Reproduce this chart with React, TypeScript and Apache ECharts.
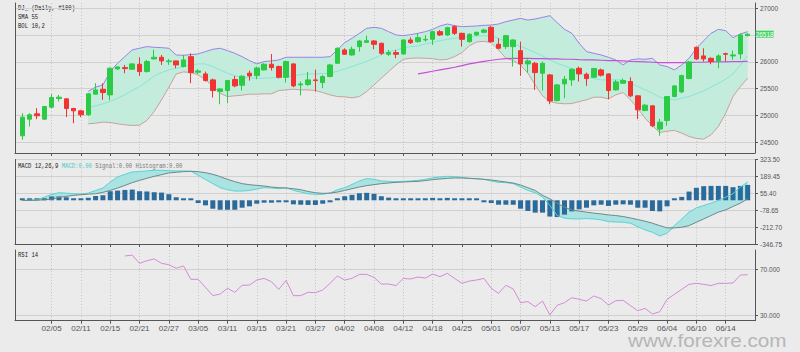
import React, { useEffect, useRef } from "react";
import * as echarts from "echarts";

const dates = [
  "01/30", "01/31", "02/01", "02/04", "02/05", "02/06", "02/07", "02/08", "02/11", "02/12",
  "02/13", "02/14", "02/15", "02/18", "02/19", "02/20", "02/21", "02/22", "02/25", "02/26",
  "02/27", "02/28", "03/01", "03/04", "03/05", "03/06", "03/07", "03/08", "03/11", "03/12",
  "03/13", "03/14", "03/15", "03/18", "03/19", "03/20", "03/21", "03/22", "03/25", "03/26",
  "03/27", "03/28", "03/29", "04/01", "04/02", "04/03", "04/04", "04/05", "04/08", "04/09",
  "04/10", "04/11", "04/12", "04/15", "04/16", "04/17", "04/18", "04/22", "04/23", "04/24",
  "04/25", "04/26", "04/29", "04/30", "05/01", "05/02", "05/03", "05/06", "05/07", "05/08",
  "05/09", "05/10", "05/13", "05/14", "05/15", "05/16", "05/17", "05/20", "05/21", "05/22",
  "05/23", "05/24", "05/27", "05/28", "05/29", "05/30", "05/31", "06/03", "06/04", "06/05",
  "06/06", "06/07", "06/10", "06/11", "06/12", "06/13", "06/14", "06/17", "06/18", "06/19",
];

const opens = [
  24621, 24932, 25031, 24932, 25155, 25317, 25311, 25131, 25087, 25013,
  25398, 25491, 25385, 25870, 25894, 25863, 25957, 25820, 26056, 26087,
  26006, 26019, 25913, 26099, 25807, 25776, 25665, 25447, 25466, 25671,
  25565, 25789, 25745, 25851, 25957, 25913, 25714, 25963, 25571, 25578,
  25665, 25615, 25727, 25975, 26224, 26130, 26286, 26366, 26391, 26348,
  26143, 26174, 26149, 26410, 26379, 26410, 26422, 26565, 26503, 26658,
  26534, 26379, 26503, 26553, 26646, 26329, 26286, 26286, 26211, 25963,
  25975, 25789, 25758, 25280, 25590, 25665, 25882, 25770, 25714, 25851,
  25776, 25478, 25603, 25634, 25367, 25093, 25180, 24746, 24907, 25354,
  25441, 25690, 26273, 26112, 26068, 26019, 26155, 26112, 26149, 26491,
];
const closes = [
  24969, 25013, 24994, 25168, 25336, 25342, 25131, 25087, 25013, 25404,
  25478, 25429, 25882, 25907, 25876, 25963, 25820, 26006, 26087, 26019,
  26019, 25944, 26037, 25801, 25832, 25652, 25466, 25497, 25652, 25553,
  25733, 25739, 25888, 25957, 25894, 25714, 26006, 25553, 25590, 25665,
  25652, 25727, 25944, 26255, 26143, 26236, 26391, 26397, 26329, 26161,
  26174, 26143, 26410, 26360, 26453, 26422, 26565, 26503, 26640, 26534,
  26422, 26516, 26553, 26596, 26379, 26255, 26491, 26410, 25963, 26019,
  25801, 25975, 25273, 25571, 25677, 25863, 25776, 25689, 25876, 25752,
  25466, 25627, 25652, 25367, 25106, 25193, 24808, 24876, 25354, 25553,
  25745, 26000, 26056, 26056, 26006, 26112, 26143, 26130, 26503, 26518,
];
const lows = [
  24547, 24795, 24932, 24919, 25137, 25261, 24969, 24857, 24969, 24994,
  25385, 25292, 25280, 25851, 25789, 25851, 25739, 25801, 26050, 25944,
  25944, 25882, 25900, 25603, 25776, 25634, 25336, 25211, 25230, 25528,
  25466, 25652, 25677, 25839, 25839, 25690, 25615, 25528, 25373, 25553,
  25447, 25509, 25714, 25963, 26130, 26118, 26193, 26360, 26236, 26130,
  26112, 26068, 26130, 26335, 26360, 26379, 26317, 26484, 26484, 26503,
  26286, 26360, 26484, 26534, 26360, 26236, 26242, 25913, 25739, 25801,
  25478, 25466, 25211, 25261, 25323, 25553, 25634, 25553, 25702, 25727,
  25305, 25466, 25590, 25342, 24932, 25081, 24783, 24621, 24808, 25342,
  25416, 25677, 26037, 26006, 25957, 25882, 26006, 26037, 26050, 26478,
];
const highs = [
  25044, 25044, 25137, 25180, 25398, 25385, 25323, 25143, 25106, 25416,
  25603, 25603, 25900, 25913, 25944, 25975, 26087, 26037, 26224, 26130,
  26056, 26019, 26130, 26161, 25863, 25820, 25690, 25509, 25665, 25739,
  25752, 25839, 25913, 25975, 26149, 25932, 26025, 25975, 25634, 25814,
  25857, 25758, 25963, 26273, 26255, 26286, 26410, 26491, 26410, 26360,
  26224, 26224, 26422, 26460, 26534, 26503, 26584, 26596, 26658, 26689,
  26546, 26534, 26565, 26621, 26671, 26441, 26503, 26422, 26379, 26050,
  26000, 26006, 25776, 25590, 25739, 25882, 25913, 25801, 25888, 25876,
  25789, 25665, 25690, 25714, 25379, 25218, 25193, 24938, 25367, 25565,
  25764, 26019, 26286, 26255, 26087, 26143, 26174, 26211, 26534, 26534,
];

// Bollinger 10,2 (values from bar 9 on)
const BOL_START = 9;
const bolUpper = [
  25450, 25530, 25570, 25820, 25975, 26100, 26225, 26255, 26286, 26273,
  26267, 26255, 26130, 26124, 26137, 26149, 26193, 26236, 26255, 26211,
  26161, 26099, 26025, 25963, 26006, 26019, 26037, 26087, 26087, 26087,
  26087, 26087, 26087, 26099, 26224, 26360, 26441, 26534, 26627, 26646,
  26627, 26565, 26503, 26491, 26509, 26534, 26565, 26608, 26671, 26708,
  26677, 26658, 26664, 26671, 26683, 26689, 26708, 26751, 26782, 26813,
  26782, 26801, 26832, 26863, 26733, 26608, 26534, 26348, 26193, 26161,
  26130, 26087, 26037, 25944, 26037, 26056, 26050, 26068, 25944, 25913,
  25851, 25944, 26068, 26255, 26397, 26534, 26608, 26584, 26453, 26522,
  26565,
];
const bolMid = [
  25155, 25180, 25218, 25261, 25323, 25385, 25466, 25541, 25634, 25739,
  25801, 25851, 25882, 25913, 25944, 25963, 25963, 25913, 25851, 25789,
  25745, 25714, 25702, 25696, 25696, 25702, 25708, 25714, 25739, 25764,
  25776, 25776, 25783, 25789, 25826, 25870, 25913, 25963, 26006, 26068,
  26130, 26193, 26224, 26267, 26286, 26298, 26335, 26366, 26397, 26422,
  26441, 26460, 26472, 26484, 26491, 26484, 26441, 26379, 26335, 26286,
  26236, 26174, 26112, 26037, 25975, 25925, 25882, 25801, 25727, 25689,
  25665, 25665, 25665, 25665, 25603, 25541, 25478, 25416, 25342, 25304,
  25292, 25323, 25354, 25404, 25460, 25528, 25603, 25677, 25776, 25944,
  26112,
];
const bolLower = [
  24845, 24857, 24876, 24870, 24845, 24826, 24814, 24820, 24907, 25075,
  25292, 25528, 25776, 25814, 25801, 25758, 25665, 25553, 25416, 25354,
  25367, 25379, 25398, 25398, 25404, 25404, 25466, 25478, 25491, 25478,
  25478, 25466, 25429, 25385, 25354, 25348, 25329, 25354, 25447, 25571,
  25696, 25820, 25944, 26050, 26068, 26074, 26068, 26062, 26037, 26050,
  26099, 26174, 26298, 26373, 26385, 26360, 26224, 26068, 26025, 25944,
  25789, 25571, 25367, 25261, 25230, 25218, 25224, 25261, 25292, 25342,
  25342, 25311, 25385, 25429, 25292, 25137, 24950, 24808, 24683, 24708,
  24721, 24671, 24609, 24572, 24559, 24640, 24795, 25043, 25354, 25541,
  25696,
];

// SMA 55 (values from bar 54 on)
const SMA_START = 54;
const sma55 = [
  25776, 25801, 25826, 25851, 25876, 25901, 25932, 25963, 25988, 26012,
  26031, 26050, 26062, 26068, 26068, 26068, 26062, 26062, 26056, 26056,
  26050, 26050, 26043, 26037, 26037, 26031, 26025, 26025, 26019, 26012,
  26006, 26000, 25994, 25988, 25988, 25988, 25988, 25988, 25994, 25994,
  26000, 26000, 26000, 26006, 26006, 26012,
];

const macdLine = [
  -1, 1, 4, 25, 47, 60, 57, 52, 49, 57,
  78, 97, 145, 185, 206, 225, 228, 233, 238, 238,
  235, 233, 233, 230, 198, 164, 132, 100, 84, 73,
  73, 78, 89, 100, 97, 92, 100, 78, 65, 52,
  47, 47, 57, 84, 100, 126, 153, 172, 166, 153,
  150, 148, 150, 153, 158, 166, 177, 185, 190, 188,
  182, 174, 169, 166, 153, 142, 140, 132, 105, 78,
  60, 25, -41, -121, -142, -148, -148, -145, -148, -156,
  -169, -172, -174, -182, -209, -235, -254, -283, -262, -201,
  -148, -94, -60, -41, -23, -1, 25, 52, 105, 145,
];
const signalLine = [
  -1, -1, 1, 4, 9, 23, 31, 39, 44, 49,
  52, 63, 78, 97, 118, 140, 158, 174, 190, 203,
  217, 222, 227, 230, 227, 219, 206, 188, 166, 148,
  132, 124, 118, 113, 105, 100, 97, 92, 84, 70,
  60, 55, 57, 65, 78, 92, 105, 116, 124, 132,
  137, 142, 145, 148, 150, 156, 164, 169, 174, 177,
  177, 174, 172, 166, 161, 153, 145, 137, 121, 100,
  78, 39, 12, -23, -55, -76, -86, -94, -102, -108,
  -116, -121, -129, -140, -153, -166, -182, -201, -219, -219,
  -214, -201, -174, -148, -121, -94, -76, -49, -23, 12,
];
const histogram = [
  0, 5, 8, 15, 30, 30, 24, 16, 10, 20,
  34, 40, 72, 77, 82, 85, 72, 70, 64, 61,
  48, 24, 16, 2, -22, -40, -67, -75, -75, -75,
  -59, -48, -27, -19, -19, -16, -5, -32, -35, -37,
  -37, -27, -11, 16, 32, 43, 56, 59, 51, 32,
  21, 16, 10, 10, 13, 13, 19, 13, 19, 5,
  2, 1, 0, -1, -22, -35, -35, -35, -67, -85,
  -98, -98, -129, -133, -114, -88, -72, -59, -40, -35,
  -45, -35, -32, -35, -59, -59, -85, -88, -48, 2,
  27, 69, 99, 112, 114, 114, 114, 104, 114, 122,
];

// RSI 14 (values from bar 14 on)
const RSI_START = 14;
const rsi14 = [
  81.6, 82.4, 75.2, 77.5, 79.0, 75.2, 74.0, 70.9, 72.9, 61.3,
  61.3, 54.3, 47.1, 48.5, 53.5, 50.0, 56.1, 56.3, 60.7, 62.1,
  59.2, 52.6, 60.4, 47.1, 47.1, 50.0, 49.7, 52.0, 57.8, 64.2,
  60.7, 62.1, 65.6, 65.6, 63.0, 57.2, 57.2, 55.8, 62.1, 61.6,
  63.3, 62.4, 65.9, 63.6, 66.5, 62.1, 57.8, 59.8, 60.7, 62.1,
  53.5, 49.1, 56.1, 52.9, 41.0, 41.9, 37.5, 42.4, 30.3, 38.7,
  41.0, 45.3, 43.9, 42.4, 46.8, 44.5, 38.9, 42.7, 43.0, 38.4,
  34.0, 36.0, 31.1, 33.1, 43.9, 48.2, 52.6, 56.9, 57.8, 56.9,
  55.8, 57.8, 57.8, 58.1, 65.0, 65.3,
];

const priceTicks = [24500, 25000, 25500, 26000, 26500, 27000];
const priceLabels = [24500, 25000, 25500, 26000, 27000]; // 26500 sits under the last-price tag
const macdTicks = [-346.75, -212.7, -78.65, 55.4, 189.45, 323.5];
const rsiTicks = [30, 70];
const LAST_PRICE = 26518;

const N = dates.length;
const cats = [" ", ...dates, "  "];

function place(values: number[], start: number): (number | string)[] {
  const out: (number | string)[] = ["-"];
  for (let i = 0; i < N; i++) {
    const j = i - start;
    out.push(j >= 0 && j < values.length ? values[j] : "-");
  }
  out.push("-");
  return out;
}

const tickOn = (idx: number) => {
  const r = idx - 1;
  return r >= 4 && r < N && r % 4 === 0;
};

const AX = "#555555";
const MONO = "Liberation Mono";
const SANS = "Liberation Sans";

export default function App() {
  const ref = useRef<HTMLDivElement>(null);

  useEffect(() => {
    if (!ref.current) return;
    const chart = echarts.init(ref.current, undefined, { renderer: "svg" });

    const candleData: any[] = ["-"];
    for (let i = 0; i < N; i++) candleData.push([opens[i], closes[i], lows[i], highs[i]]);
    candleData.push("-");

    const bolDiff = bolUpper.map((u, k) => u - bolLower[k]);
    const macdBase = macdLine.map((m, i) => Math.min(m, signalLine[i]));
    const macdDiff = macdLine.map((m, i) => Math.abs(m - signalLine[i]));

    const grids = [
      { left: 15, right: 45, top: 3, height: 150 },
      { left: 15, right: 45, top: 159.5, height: 84.5 },
      { left: 15, right: 45, top: 250, height: 70.7 },
    ];

    const xAxes = [0, 1, 2].map((k) => ({
      type: "category",
      gridIndex: k,
      data: cats,
      boundaryGap: false,
      axisLine: { show: true, onZero: false, lineStyle: { color: AX, width: 1 } },
      axisTick: { show: true, interval: tickOn, length: 3, lineStyle: { color: AX } },
      axisLabel: {
        show: k === 2,
        interval: tickOn,
        fontSize: 8,
        color: "#555",
        margin: 4,
        fontFamily: SANS,
      },
      splitLine: { show: true, interval: tickOn, lineStyle: { color: "#c6c6c6", type: [1, 2] } },
    }));

    const rightAxis = (
      g: number,
      min: number,
      max: number,
      ticks: number[],
      labels: number[],
      fmt: (v: number) => string
    ) => ({
      type: "value",
      gridIndex: g,
      position: "right",
      min,
      max,
      axisLine: { show: true, onZero: false, lineStyle: { color: AX } },
      axisTick: { show: true, customValues: ticks, length: 3, lineStyle: { color: AX } },
      axisLabel: {
        show: true,
        customValues: labels,
        formatter: fmt,
        fontSize: 6.5,
        color: "#555",
        margin: 5,
        fontFamily: SANS,
      },
      splitLine: { show: true, lineStyle: { color: "#d0d0d0", width: 1 } },
    });
    const leftAxis = (g: number, min: number, max: number) => ({
      type: "value",
      gridIndex: g,
      position: "left",
      min,
      max,
      axisLine: { show: true, onZero: false, lineStyle: { color: AX } },
      axisTick: { show: false },
      axisLabel: { show: false },
      splitLine: { show: false },
    });

    const noSym = { showSymbol: false, symbol: "none" };

    const option: any = {
      animation: false,
      backgroundColor: "#ebebeb",
      grid: grids.map((g) => ({ ...g, outerBoundsMode: "none", containLabel: false })),
      xAxis: xAxes,
      yAxis: [
        rightAxis(0, 24300, 27100, priceTicks, priceLabels, (v) => String(Math.round(v))),
        leftAxis(0, 24300, 27100),
        rightAxis(1, -346.75, 323.5, macdTicks, macdTicks, (v) => v.toFixed(2)),
        leftAxis(1, -346.75, 323.5),
        rightAxis(2, 25.3, 86.8, rsiTicks, rsiTicks, (v) => v.toFixed(3)),
        leftAxis(2, 25.3, 86.8),
      ],
      series: [
        {
          name: "BOL base",
          type: "line",
          xAxisIndex: 0,
          yAxisIndex: 0,
          data: place(bolLower, BOL_START),
          stack: "bol",
          ...noSym,
          lineStyle: { color: "#c6a29c", width: 1 },
          z: 2,
        },
        {
          name: "BOL fill",
          type: "line",
          xAxisIndex: 0,
          yAxisIndex: 0,
          data: place(bolDiff, BOL_START),
          stack: "bol",
          ...noSym,
          lineStyle: { width: 0, opacity: 0 },
          areaStyle: { color: "#c3ecdd", opacity: 1 },
          z: 1,
        },
        {
          name: "BOL upper",
          type: "line",
          xAxisIndex: 0,
          yAxisIndex: 0,
          data: place(bolUpper, BOL_START),
          ...noSym,
          lineStyle: { color: "#9a82e6", width: 1 },
          z: 3,
        },
        {
          name: "BOL mid",
          type: "line",
          xAxisIndex: 0,
          yAxisIndex: 0,
          data: place(bolMid, BOL_START),
          ...noSym,
          lineStyle: { color: "#86e6d6", width: 1 },
          z: 3,
        },
        {
          name: "SMA 55",
          type: "line",
          xAxisIndex: 0,
          yAxisIndex: 0,
          data: place(sma55, SMA_START),
          ...noSym,
          lineStyle: { color: "#c650d6", width: 1.2 },
          z: 3,
        },
        {
          name: "DJ_",
          type: "candlestick",
          xAxisIndex: 0,
          yAxisIndex: 0,
          data: candleData,
          barWidth: 5,
          itemStyle: {
            color: "#2ccb45",
            color0: "#f03434",
            borderColor: "#2ccb45",
            borderColor0: "#f03434",
            borderWidth: 1,
          },
          z: 5,
          markPoint: {
            silent: true,
            symbol: "rect",
            symbolSize: [18, 7],
            symbolOffset: [17, 0],
            itemStyle: { color: "#3fd35f" },
            label: {
              show: true,
              position: "inside",
              formatter: String(LAST_PRICE),
              color: "#ffffff",
              fontSize: 6.5,
              fontFamily: SANS,
            },
            data: [{ coord: [dates[N - 1], LAST_PRICE], value: LAST_PRICE }],
          },
        },
        {
          name: "MACD base",
          type: "line",
          xAxisIndex: 1,
          yAxisIndex: 2,
          data: place(macdBase, 0),
          stack: "macd",
          stackStrategy: "all",
          ...noSym,
          lineStyle: { width: 0, opacity: 0 },
          z: 1,
        },
        {
          name: "MACD fill",
          type: "line",
          xAxisIndex: 1,
          yAxisIndex: 2,
          data: place(macdDiff, 0),
          stack: "macd",
          stackStrategy: "all",
          ...noSym,
          lineStyle: { width: 0, opacity: 0 },
          areaStyle: { color: "#abe2e2", opacity: 1 },
          z: 1,
        },
        {
          name: "Histogram",
          type: "bar",
          xAxisIndex: 1,
          yAxisIndex: 2,
          data: place(histogram, 0),
          barWidth: 5,
          barMinHeight: 2,
          itemStyle: { color: "#2a6b9b" },
          z: 3,
        },
        {
          name: "MACD",
          type: "line",
          xAxisIndex: 1,
          yAxisIndex: 2,
          data: place(macdLine, 0),
          ...noSym,
          lineStyle: { color: "#58d3d3", width: 1 },
          z: 4,
        },
        {
          name: "Signal",
          type: "line",
          xAxisIndex: 1,
          yAxisIndex: 2,
          data: place(signalLine, 0),
          ...noSym,
          lineStyle: { color: "#6f8888", width: 1 },
          z: 4,
        },
        {
          name: "RSI 14",
          type: "line",
          xAxisIndex: 2,
          yAxisIndex: 4,
          data: place(rsi14, RSI_START),
          ...noSym,
          lineStyle: { color: "#d58ad5", width: 1 },
          z: 3,
        },
      ],
      graphic: [
        {
          type: "text",
          x: 18,
          y: 8,
          scaleX: 0.7,
          style: { text: "DJ_ (Daily, #100)", fontSize: 8, fontFamily: MONO, fill: "#222", verticalAlign: "middle" },
        },
        {
          type: "text",
          x: 18,
          y: 17,
          scaleX: 0.7,
          style: { text: "SMA 55", fontSize: 8, fontFamily: MONO, fill: "#222", verticalAlign: "middle" },
        },
        {
          type: "text",
          x: 18,
          y: 25.5,
          scaleX: 0.7,
          style: { text: "BOL 10,2", fontSize: 8, fontFamily: MONO, fill: "#222", verticalAlign: "middle" },
        },
        {
          type: "text",
          x: 18,
          y: 165.5,
          scaleX: 0.7,
          style: {
            text: "{a|MACD 12,26,9 }{b|MACD:0.00}{c| Signal:0.00 Histogram:0.00}",
            fontSize: 8,
            fontFamily: MONO,
            verticalAlign: "middle",
            rich: {
              a: { fill: "#222", fontSize: 8, fontFamily: MONO },
              b: { fill: "#45cccc", fontSize: 8, fontFamily: MONO },
              c: { fill: "#7a7a7a", fontSize: 8, fontFamily: MONO },
            },
          },
        },
        {
          type: "text",
          x: 18,
          y: 255,
          scaleX: 0.7,
          style: { text: "RSI 14", fontSize: 8, fontFamily: MONO, fill: "#222", verticalAlign: "middle" },
        },
        {
          type: "text",
          x: 628,
          y: 341,
          scaleX: 1.15,
          style: {
            text: "www.forexre.com",
            fontSize: 18,
            fontFamily: SANS,
            fill: "#b6b6b6",
            verticalAlign: "middle",
          },
        },
      ],
    };

    chart.setOption(option);
    return () => chart.dispose();
  }, []);

  return (
    <div
      ref={ref}
      style={{ position: "fixed", left: 0, top: 0, width: 800, height: 352 }}
    />
  );
}
